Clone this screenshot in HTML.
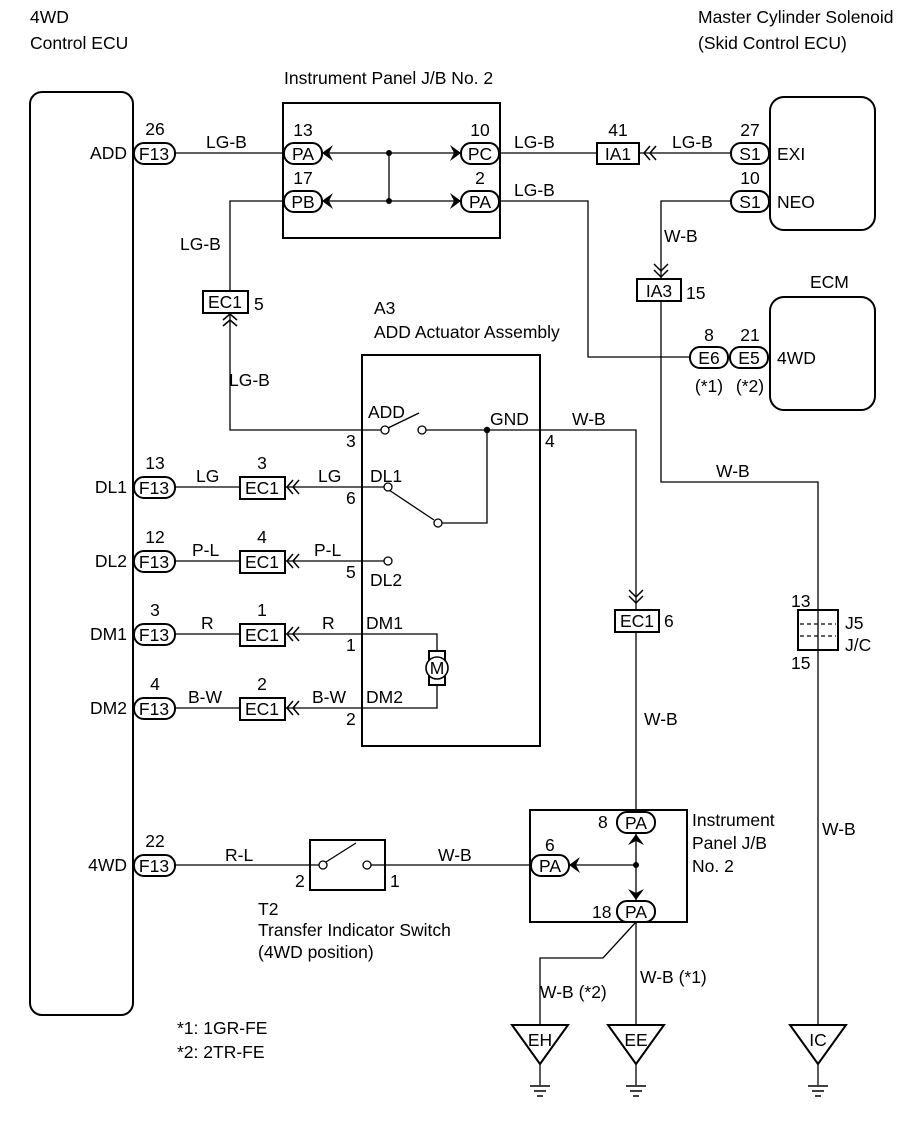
<!DOCTYPE html>
<html><head><meta charset="utf-8"><style>
html,body{margin:0;padding:0;background:#fff}
svg{display:block}
text{font-family:"Liberation Sans",Arial,sans-serif;font-size:17.5px;fill:#000}
</style></head><body>
<svg width="907" height="1122" viewBox="0 0 907 1122" xmlns="http://www.w3.org/2000/svg">
<g fill="none" stroke="#000" stroke-width="1.3">
<rect x="30" y="92" width="103" height="923" rx="12" stroke-width="2"/>
<rect x="283" y="103" width="217" height="135" stroke-width="2"/>
<rect x="770" y="97" width="105" height="133" rx="14" stroke-width="2"/>
<rect x="770" y="297" width="105" height="113" rx="14" stroke-width="2"/>
<rect x="362" y="355" width="178" height="391" stroke-width="2"/>
<rect x="530" y="810" width="157" height="112" stroke-width="2"/>
<rect x="310" y="840" width="75" height="50" stroke-width="2"/>
<rect x="798" y="610" width="40" height="40" stroke-width="2"/>
<line x1="800" y1="624" x2="836" y2="624" stroke-dasharray="4,3"/>
<line x1="800" y1="636" x2="836" y2="636" stroke-dasharray="4,3"/>

<line x1="175" y1="153" x2="283" y2="153"/>
<line x1="320" y1="153" x2="466" y2="153"/>
<line x1="320" y1="201" x2="466" y2="201"/>
<line x1="389" y1="153" x2="389" y2="201"/>
<line x1="500" y1="153" x2="597" y2="153"/>
<line x1="640" y1="153" x2="733" y2="153"/>
<polyline points="733,201 661,201 661,278"/>
<polyline points="661,302 661,482 818,482 818,1025"/>
<polyline points="500,201 588,201 588,357 690,357"/>
<polyline points="283,201 230,201 230,290"/>
<polyline points="230,313 230,430 362,430"/>
<line x1="362" y1="430" x2="381" y2="430"/>
<line x1="388" y1="428" x2="419" y2="413"/>
<polyline points="425,430 540,430 636,430 636,610"/>
<line x1="636" y1="632" x2="636" y2="812"/>
<polyline points="362,487 384,487"/>
<line x1="389" y1="490" x2="434" y2="520"/>
<polyline points="442,523 487,523 487,430"/>
<line x1="362" y1="561" x2="384" y2="561"/>
<polyline points="362,634 437,634 437,651"/>
<polyline points="362,708 437,708 437,685"/>
<rect x="429" y="651" width="16" height="34" stroke-width="2"/>
<line x1="175" y1="487" x2="240" y2="487"/>
<line x1="285" y1="487" x2="362" y2="487"/>
<line x1="175" y1="561" x2="240" y2="561"/>
<line x1="285" y1="561" x2="362" y2="561"/>
<line x1="175" y1="634" x2="240" y2="634"/>
<line x1="285" y1="634" x2="362" y2="634"/>
<line x1="175" y1="708" x2="240" y2="708"/>
<line x1="285" y1="708" x2="362" y2="708"/>
<line x1="175" y1="865" x2="310" y2="865"/>
<line x1="385" y1="865" x2="530" y2="865"/>
<line x1="570" y1="865" x2="636" y2="865"/>
<line x1="636" y1="832" x2="636" y2="902"/>
<line x1="310" y1="865" x2="319" y2="865"/>
<line x1="326" y1="862" x2="356" y2="843"/>
<line x1="371" y1="865" x2="385" y2="865"/>
<line x1="636" y1="922" x2="636" y2="1025"/>
<polyline points="636,922 603,958 540,958 540,1025"/>
<polygon points="512,1025 568,1025 540,1064" stroke-width="2"/>
<polygon points="608,1025 664,1025 636,1064" stroke-width="2"/>
<polygon points="790,1025 846,1025 818,1064" stroke-width="2"/>
<line x1="540" y1="1064" x2="540" y2="1085"/><line x1="636" y1="1064" x2="636" y2="1085"/><line x1="818" y1="1064" x2="818" y2="1085"/>
<g stroke-width="1.5">
<line x1="530" y1="1086" x2="550" y2="1086"/><line x1="534" y1="1091" x2="546" y2="1091"/><line x1="537" y1="1096" x2="543" y2="1096"/>
<line x1="626" y1="1086" x2="646" y2="1086"/><line x1="630" y1="1091" x2="642" y2="1091"/><line x1="633" y1="1096" x2="639" y2="1096"/>
<line x1="808" y1="1086" x2="828" y2="1086"/><line x1="812" y1="1091" x2="824" y2="1091"/><line x1="815" y1="1096" x2="821" y2="1096"/>
</g>
<circle cx="385" cy="430" r="4" fill="#fff"/>
<circle cx="422" cy="430" r="4" fill="#fff"/>
<circle cx="388" cy="487" r="4" fill="#fff"/>
<circle cx="438" cy="523" r="4" fill="#fff"/>
<circle cx="388" cy="561" r="4" fill="#fff"/>
<circle cx="437" cy="668" r="11" fill="#fff" stroke-width="1.6"/>
<circle cx="323" cy="865" r="4" fill="#fff"/>
<circle cx="367" cy="865" r="4" fill="#fff"/>

<g stroke-width="2" fill="#fff">
<rect x="134" y="143" width="41" height="21" rx="10"/>
<rect x="134" y="477" width="41" height="21" rx="10"/>
<rect x="134" y="551" width="41" height="21" rx="10"/>
<rect x="134" y="624" width="41" height="21" rx="10"/>
<rect x="134" y="698" width="41" height="21" rx="10"/>
<rect x="134" y="855" width="41" height="21" rx="10"/>
<rect x="284" y="143" width="38" height="21" rx="10"/>
<rect x="284" y="191" width="38" height="21" rx="10"/>
<rect x="461" y="143" width="38" height="21" rx="10"/>
<rect x="461" y="191" width="38" height="21" rx="10"/>
<rect x="731" y="143" width="38" height="21" rx="10"/>
<rect x="731" y="191" width="38" height="21" rx="10"/>
<rect x="690" y="347" width="38" height="21" rx="10"/>
<rect x="730" y="347" width="38" height="21" rx="10"/>
<rect x="617" y="812" width="38" height="21" rx="10"/>
<rect x="531" y="855" width="38" height="21" rx="10"/>
<rect x="617" y="901" width="38" height="21" rx="10"/>
<rect x="597" y="143" width="42" height="21"/>
<rect x="637" y="279" width="44" height="22"/>
<rect x="203" y="291" width="45" height="22"/>
<rect x="240" y="477" width="45" height="22"/>
<rect x="240" y="551" width="45" height="22"/>
<rect x="240" y="624" width="45" height="22"/>
<rect x="240" y="698" width="45" height="22"/>
<rect x="615" y="610" width="44" height="22"/>
</g>
<g stroke-width="1.5">
<polyline points="650,146 644,153 650,160"/><polyline points="656,146 650,153 656,160"/>
<polyline points="293,480 287,487 293,494"/><polyline points="299,480 293,487 299,494"/>
<polyline points="293,554 287,561 293,568"/><polyline points="299,554 293,561 299,568"/>
<polyline points="293,627 287,634 293,641"/><polyline points="299,627 293,634 299,641"/>
<polyline points="293,701 287,708 293,715"/><polyline points="299,701 293,708 299,715"/>
<polyline points="223,320 230,314 237,320"/><polyline points="223,326 230,320 237,326"/>
<polyline points="654,264 661,271 668,264"/><polyline points="654,270 661,277 668,270"/>
<polyline points="629,590 636,597 643,590"/><polyline points="629,596 636,603 643,596"/>
</g>
</g>
<g fill="#000">
<circle cx="389" cy="153" r="3"/><circle cx="389" cy="201" r="3"/>
<circle cx="487" cy="430" r="3.2"/><circle cx="636" cy="865" r="3"/>
<polygon points="322,153 333,145 329,153 333,161"/>
<polygon points="322,201 333,193 329,201 333,209"/>
<polygon points="461,153 450,145 454,153 450,161"/>
<polygon points="461,201 450,193 454,201 450,209"/>
<polygon points="569,865 580,857 576,865 580,873"/>
<polygon points="636,834 628,845 636,841 644,845"/>
<polygon points="636,900 628,889 636,893 644,889"/>
</g>
<text x="30" y="23">4WD</text><text x="30" y="49">Control ECU</text>
<text x="698" y="23">Master Cylinder Solenoid</text><text x="698" y="49">(Skid Control ECU)</text>
<text x="284" y="84">Instrument Panel J/B No. 2</text>
<text x="810" y="288">ECM</text>
<text x="374" y="314">A3</text><text x="374" y="338">ADD Actuator Assembly</text>
<g text-anchor="end">
<text x="127" y="159">ADD</text><text x="127" y="493">DL1</text><text x="127" y="567">DL2</text>
<text x="127" y="640">DM1</text><text x="127" y="714">DM2</text><text x="127" y="871">4WD</text>
</g>
<g text-anchor="middle">
<text x="155" y="135">26</text><text x="155" y="469">13</text><text x="155" y="543">12</text><text x="155" y="616">3</text><text x="155" y="690">4</text><text x="155" y="847">22</text>
<text x="154" y="160">F13</text><text x="154" y="494">F13</text><text x="154" y="568">F13</text><text x="154" y="641">F13</text><text x="154" y="715">F13</text><text x="154" y="872">F13</text>
<text x="303" y="136">13</text><text x="303" y="160">PA</text>
<text x="303" y="184">17</text><text x="303" y="208">PB</text>
<text x="480" y="136">10</text><text x="480" y="160">PC</text>
<text x="480" y="184">2</text><text x="480" y="208">PA</text>
<text x="618" y="136">41</text><text x="618" y="160">IA1</text>
<text x="750" y="136">27</text><text x="750" y="160">S1</text>
<text x="750" y="184">10</text><text x="750" y="208">S1</text>
<text x="659" y="297">IA3</text><text x="225" y="308">EC1</text>
<text x="709" y="341">8</text><text x="750" y="341">21</text>
<text x="709" y="364">E6</text><text x="749" y="364">E5</text>
<text x="709" y="392">(*1)</text><text x="750" y="392">(*2)</text>
<text x="262" y="469">3</text><text x="262" y="494">EC1</text>
<text x="262" y="543">4</text><text x="262" y="568">EC1</text>
<text x="262" y="616">1</text><text x="262" y="641">EC1</text>
<text x="262" y="690">2</text><text x="262" y="715">EC1</text>
<text x="637" y="627">EC1</text>
<text x="636" y="829">PA</text><text x="550" y="872">PA</text><text x="636" y="918">PA</text>
<text x="540" y="1046">EH</text><text x="636" y="1046">EE</text><text x="818" y="1046">IC</text>
<text x="437" y="674" font-size="14">M</text>
</g>
<text x="206" y="148">LG-B</text><text x="514" y="148">LG-B</text><text x="672" y="148">LG-B</text>
<text x="514" y="196">LG-B</text><text x="180" y="250">LG-B</text><text x="229" y="386">LG-B</text>
<text x="254" y="310">5</text><text x="686" y="299">15</text>
<text x="664" y="242">W-B</text>
<text x="777" y="160">EXI</text><text x="777" y="208">NEO</text><text x="777" y="364">4WD</text>
<text x="368" y="418">ADD</text><text x="490" y="425">GND</text><text x="572" y="425">W-B</text>
<text x="346" y="447">3</text><text x="545" y="447">4</text>
<text x="370" y="482">DL1</text><text x="346" y="504">6</text>
<text x="346" y="578">5</text><text x="370" y="586">DL2</text>
<text x="366" y="629">DM1</text><text x="346" y="651">1</text>
<text x="366" y="703">DM2</text><text x="346" y="725">2</text>
<text x="196" y="482">LG</text><text x="318" y="482">LG</text>
<text x="192" y="556">P-L</text><text x="314" y="556">P-L</text>
<text x="201" y="629">R</text><text x="322" y="629">R</text>
<text x="188" y="703">B-W</text><text x="312" y="703">B-W</text>
<text x="716" y="477">W-B</text>
<text x="664" y="627">6</text>
<text x="644" y="725">W-B</text>
<text x="791" y="607">13</text><text x="845" y="629">J5</text><text x="845" y="651">J/C</text><text x="791" y="669">15</text>
<text x="822" y="835">W-B</text>
<text x="692" y="826">Instrument</text><text x="692" y="849">Panel J/B</text><text x="692" y="872">No. 2</text>
<text x="598" y="828">8</text><text x="545" y="851">6</text><text x="592" y="918">18</text>
<text x="225" y="861">R-L</text><text x="438" y="861">W-B</text>
<text x="295" y="887">2</text><text x="390" y="887">1</text>
<text x="258" y="915">T2</text><text x="258" y="936">Transfer Indicator Switch</text><text x="258" y="958">(4WD position)</text>
<text x="640" y="983">W-B (*1)</text><text x="540" y="998">W-B (*2)</text>
<text x="177" y="1034">*1: 1GR-FE</text><text x="177" y="1058">*2: 2TR-FE</text>
</svg>
</body></html>
